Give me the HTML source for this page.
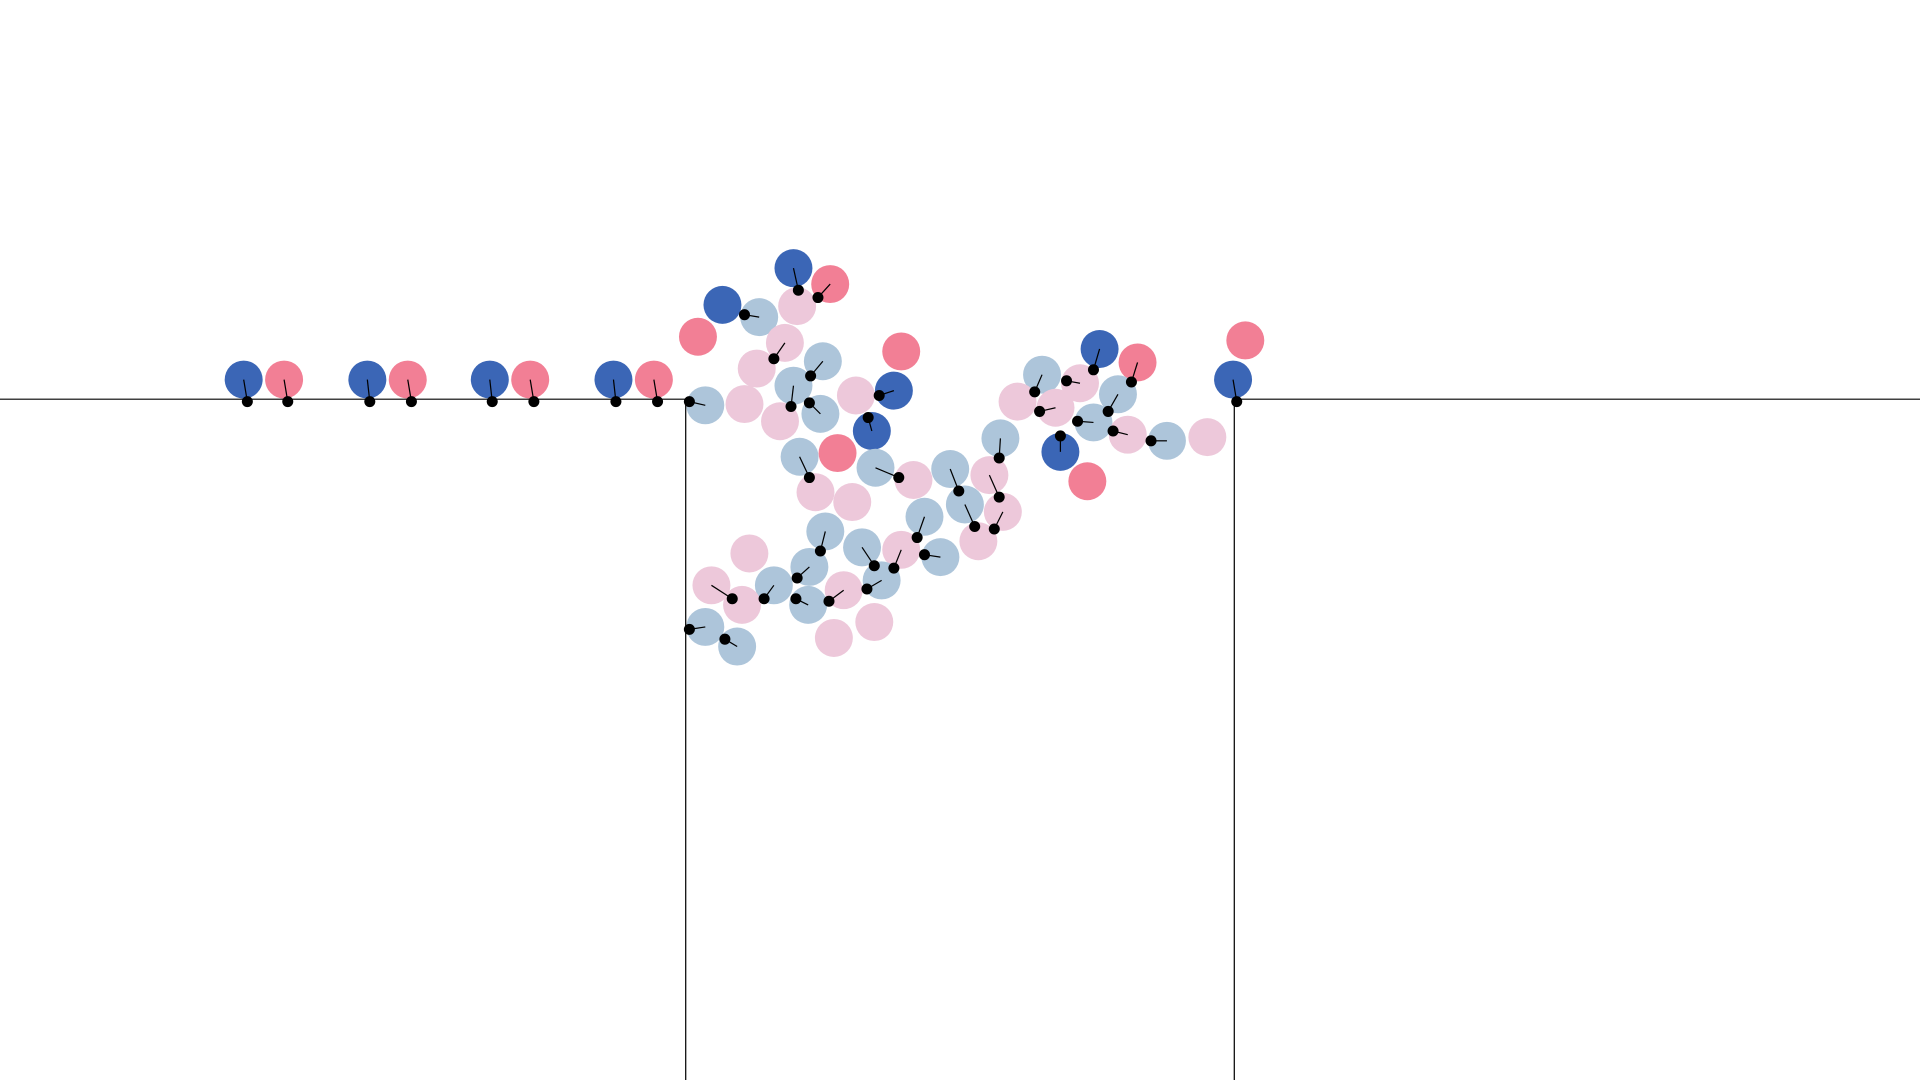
<!DOCTYPE html>
<html><head><meta charset="utf-8"><style>html,body{margin:0;padding:0;background:#fff;width:1920px;height:1080px;overflow:hidden}</style></head>
<body>
<svg id="chart" width="1920" height="1080" viewBox="0 0 1568 882" xmlns="http://www.w3.org/2000/svg">
<g stroke="#000" stroke-width="1" fill="none">
<line x1="0" y1="326" x2="560" y2="326"/>
<line x1="560" y1="326" x2="560" y2="882"/>
<line x1="1008" y1="326" x2="1008" y2="882"/>
<line x1="1008" y1="326" x2="1568" y2="326"/>
</g>
<g id="nodes"></g>
</svg>
<script>
const nodeX=[199,232,300,333,400,433,501,534,1007,1017,648,678,590,620,651,570,641,618,672,648,670,576,608,637,699,730,736,712,684,653,666,696,715,746,776,808,755,788,819,799,768,736,704,674,661,720,689,660,714,681,632,612,581,606,576,602,817,851,831,862,882,898,929,913,893,921,953,986,866,888];
const nodeY=[310,310,310,310,310,310,310,310,310,278,219,232,249,259,250,275,280,301,295,315,338,331,330,344,323,319,287,352,370,373,402,410,382,392,383,388,422,412,418,442,455,449,447,434,463,474,482,494,508,521,478,452,478,494,512,528,358,306,328,333,313,285,296,322,345,355,360,357,369,393];
const nodeType=["D","P","D","P","D","P","D","P","D","P","D","P","D","L","Q","P","Q","Q","L","L","L","L","Q","Q","Q","D","P","D","P","L","Q","Q","L","Q","L","Q","L","L","Q","Q","L","Q","L","L","L","L","Q","L","Q","Q","L","Q","Q","Q","L","L","L","L","Q","Q","Q","D","P","L","L","Q","L","Q","D","P"];
const dotX=[202,235,302,336,402,436,503,537,1010,null,652,668,null,608,null,null,632,null,662,646,661,563,null,null,null,718,null,709,null,661,null,null,734,null,783,816,749,796,812,null,755,730,714,670,651,708,677,650,null,null,624,null,598,null,563,592,816,845,null,849,871,893,924,905,880,909,940,null,866,null];
const dotY=[328,328,328,328,328,328,328,328,328,null,237,243,null,257,null,null,293,null,307,332,329,328,null,null,null,323,null,341,null,390,null,null,390,null,401,406,439,430,432,null,453,464,462,450,472,481,491,489,null,null,489,null,489,null,514,522,374,320,null,336,311,302,312,336,344,352,360,null,356,null];
const colors={D:"#3b66b6",P:"#f27f95",L:"#adc5da",Q:"#edc8da"};
const g=document.getElementById('nodes');
const ns="http://www.w3.org/2000/svg";
for(let i=0;i<nodeX.length;i++){
  const c=document.createElementNS(ns,'circle');
  
  
  c.setAttribute('cx',nodeX[i]);c.setAttribute('cy',nodeY[i]);c.setAttribute('r',15.5);
  c.setAttribute('fill',colors[nodeType[i]]);
  g.appendChild(c);
}
for(let i=0;i<nodeX.length;i++){
  if(dotX[i]==null)continue;
  const l=document.createElementNS(ns,'line');
  
  
  l.setAttribute('x1',nodeX[i]);l.setAttribute('y1',nodeY[i]);l.setAttribute('x2',dotX[i]);l.setAttribute('y2',dotY[i]);
  l.setAttribute('stroke','#000');l.setAttribute('stroke-width','1');
  g.appendChild(l);
  const d=document.createElementNS(ns,'circle');
  
  
  d.setAttribute('cx',dotX[i]);d.setAttribute('cy',dotY[i]);d.setAttribute('r',4.5);
  d.setAttribute('fill','#000');
  g.appendChild(d);
}
</script>
</body></html>
